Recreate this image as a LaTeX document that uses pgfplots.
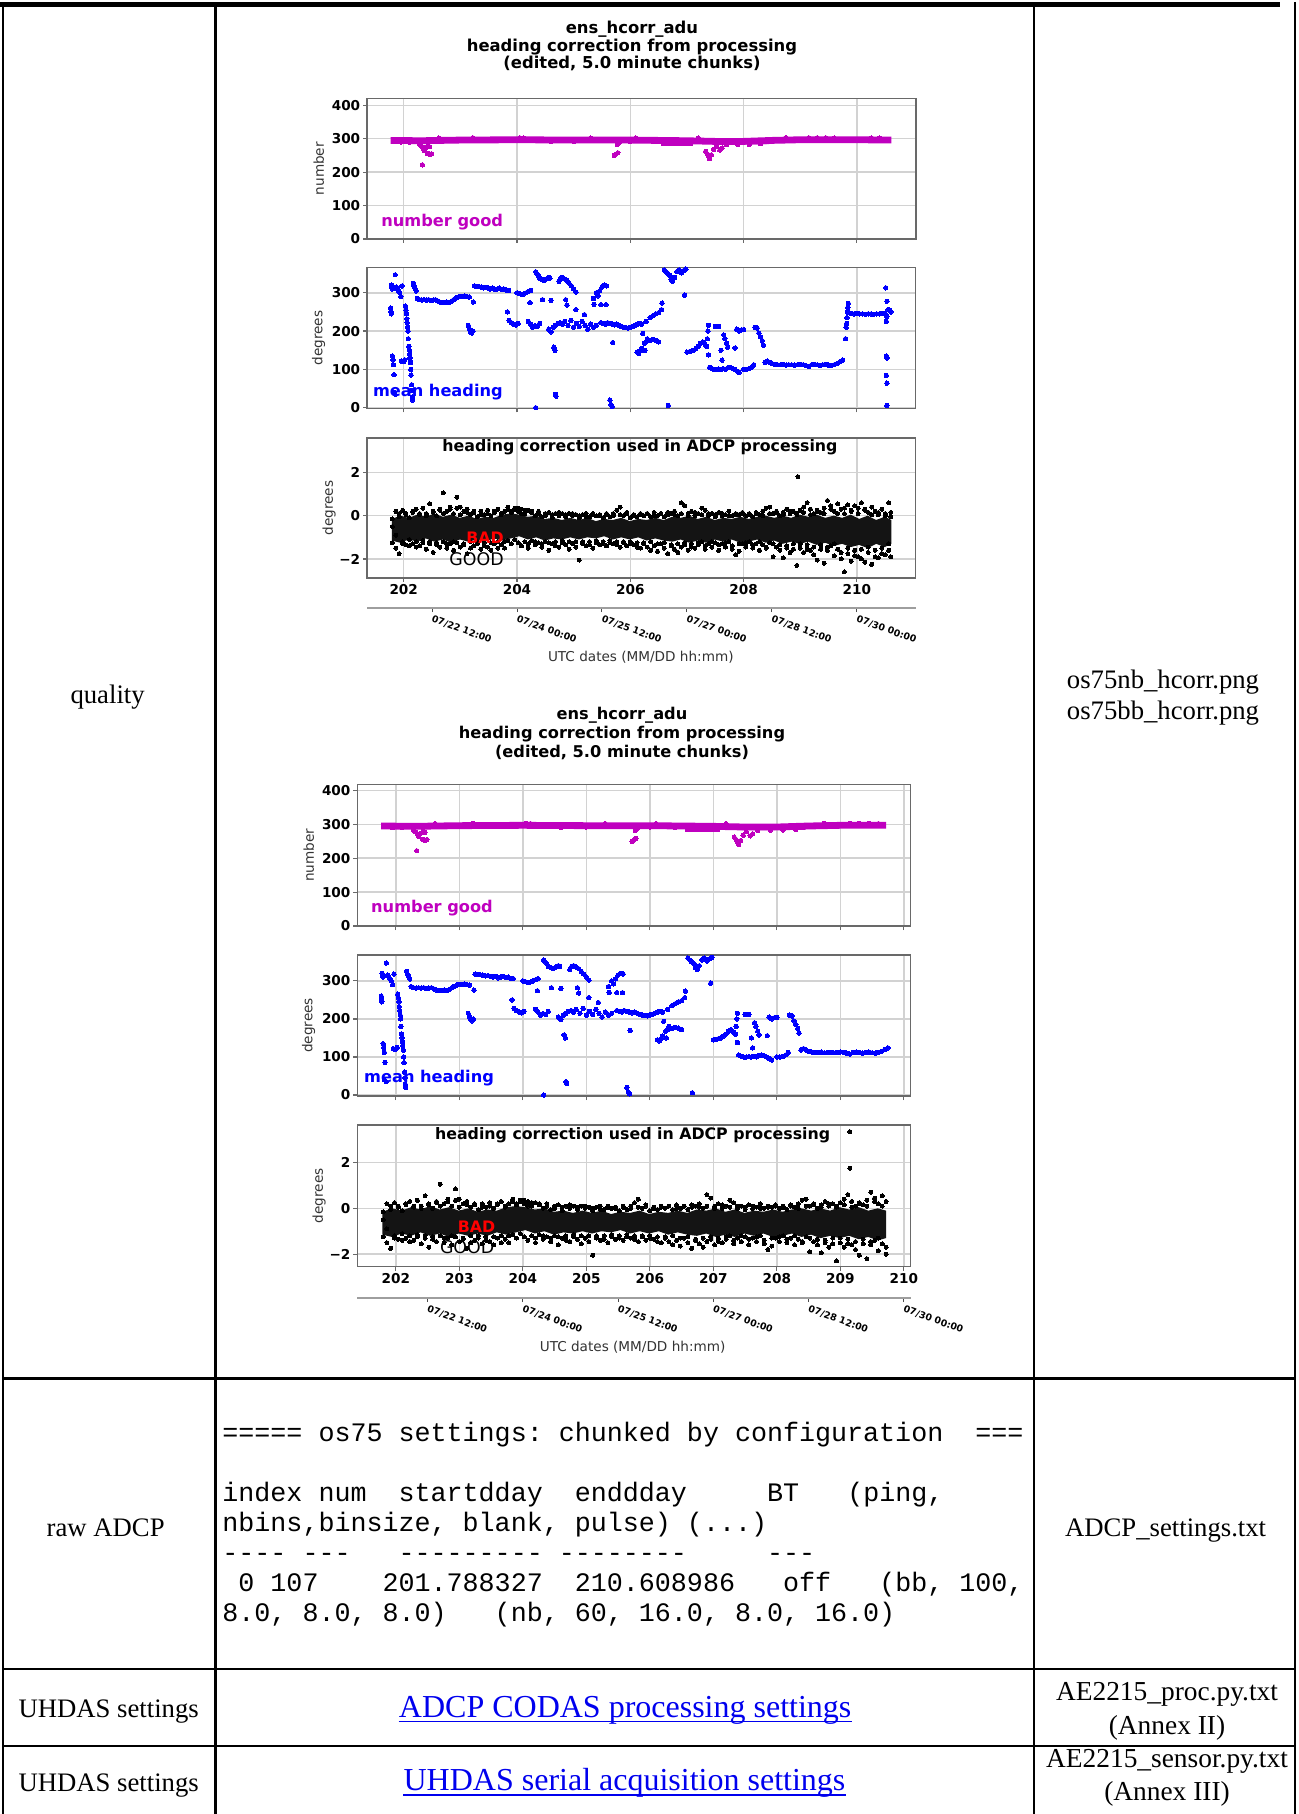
\documentclass[border=0pt]{standalone}
\usepackage{fontspec}
\setmainfont{Liberation Serif}
\setmonofont{Liberation Mono}
\newfontfamily\dv{DejaVu Sans}
\usepackage{pgfplots}
\usepackage{pgfplotstable}
\pgfplotsset{compat=1.18}

\definecolor{mag}{RGB}{191,0,191}
\definecolor{hblue}{RGB}{0,0,255}
\definecolor{gridc}{RGB}{210,210,210}
\definecolor{spinec}{RGB}{105,105,105}
\definecolor{linkblue}{RGB}{0,0,238}

\newcommand{\tf}{\fontsize{13.35}{16}\selectfont}
\newcommand{\tfb}{\fontsize{13.7}{16.5}\selectfont}
\newcommand{\lf}{\fontsize{16}{19}\selectfont}
\newcommand{\tk}{\dv\bfseries\fontsize{6.8}{8.2}\selectfont}

\pgfplotstableread{
x y
201.770 260
201.775 250
201.780 245
201.785 320
201.790 314
201.800 310
201.850 347
201.870 315
201.890 310
201.910 305
201.930 300
201.950 290
201.970 318
201.800 135
201.810 125
201.820 112
201.830 86
201.820 40
201.850 35
201.960 122
201.980 120
202.000 121
202.020 125
202.030 265
202.040 255
202.050 245
202.055 232
202.060 222
202.070 210
202.075 200
202.080 180
202.090 160
202.100 150
202.105 140
202.110 130
202.120 118
202.125 100
202.130 85
202.140 60
202.145 45
202.150 28
202.155 20
202.170 325
202.180 318
202.200 312
202.220 305
202.240 285
202.280 282
202.320 281
202.360 282
202.400 281
202.440 282
202.480 280
202.520 281
202.560 282
202.600 279
202.640 276
202.680 275
202.720 274
202.760 276
202.800 275
202.840 277
202.880 282
202.920 286
202.960 289
203.000 291
203.040 290
203.080 292
203.120 290
203.160 289
203.140 215
203.160 205
203.180 198
203.200 195
203.220 200
203.230 276
203.250 318
203.290 317
203.330 316
203.370 315
203.410 313
203.450 314
203.490 312
203.530 310
203.570 312
203.610 308
203.650 310
203.690 312
203.730 309
203.770 310
203.810 307
203.850 306
203.830 250
203.860 228
203.900 222
203.940 218
203.980 216
204.020 220
204.000 300
204.040 298
204.080 296
204.120 297
204.160 300
204.200 303
204.240 306
204.230 274
204.200 225
204.240 218
204.280 210
204.320 214
204.360 212
204.400 220
204.330 355
204.350 350
204.380 344
204.400 338
204.440 335
204.480 332
204.520 336
204.560 340
204.580 338
204.330 0
204.450 282
204.600 280
204.560 205
204.600 198
204.640 210
204.680 215
204.720 220
204.760 222
204.800 218
204.840 225
204.650 158
204.670 150
204.680 35
204.690 30
204.740 330
204.770 338
204.800 340
204.840 336
204.880 332
204.920 325
204.960 318
205.000 310
205.040 302
204.860 282
204.880 268
204.900 215
204.950 228
205.000 210
205.050 220
205.100 212
205.150 225
205.200 215
205.250 205
205.300 218
205.350 210
205.400 215
205.040 256
205.190 243
205.350 285
205.360 270
205.400 300
205.430 292
205.460 305
205.500 315
205.540 320
205.580 318
205.480 269
205.570 269
205.480 222
205.520 220
205.560 218
205.600 222
205.640 220
205.680 218
205.720 216
205.760 218
205.800 215
205.840 212
205.880 210
205.920 209
205.960 208
206.000 210
206.040 212
206.080 215
206.120 218
206.160 220
206.200 218
205.690 170
205.640 20
205.660 8
205.680 3
206.120 145
206.150 142
206.180 148
206.200 155
206.220 194
206.250 168
206.280 172
206.300 180
206.350 175
206.400 178
206.450 176
206.500 172
206.260 150
206.280 225
206.350 235
206.400 240
206.450 245
206.500 248
206.550 256
206.560 273
206.600 360
206.630 355
206.660 350
206.700 345
206.720 335
206.750 330
206.780 340
206.820 355
206.860 360
206.900 352
206.940 358
206.980 362
206.960 294
206.670 6
207.000 145
207.040 146
207.080 148
207.120 150
207.160 155
207.200 160
207.240 168
207.280 172
207.320 165
207.350 160
207.360 180
207.370 200
207.380 215
207.380 138
207.400 105
207.440 102
207.480 100
207.520 100
207.560 101
207.600 100
207.640 102
207.680 100
207.720 104
207.760 105
207.800 103
207.840 100
207.880 96
207.920 92
207.500 212
207.560 212
207.650 190
207.670 180
207.700 168
207.720 158
207.600 150
207.620 124
207.850 156
207.880 205
207.920 200
207.960 203
208.000 204
208.000 100
208.050 100
208.100 102
208.150 106
208.180 112
208.200 210
208.240 208
208.270 195
208.300 185
208.330 175
208.350 163
208.380 118
208.420 122
208.460 118
208.500 115
208.550 113
208.600 112
208.650 112
208.700 113
208.750 111
208.800 112
208.850 112
208.900 111
208.950 112
209.000 113
209.050 112
209.100 110
209.150 108
209.200 112
209.250 113
209.300 112
209.350 110
209.400 112
209.450 113
209.500 111
209.550 110
209.600 112
209.650 115
209.700 120
209.750 124
209.800 180
209.810 210
209.820 220
209.825 235
209.830 250
209.840 262
209.850 272
209.860 248
209.900 246
209.950 245
210.000 246
210.050 245
210.100 245
210.150 244
210.200 245
210.250 245
210.300 244
210.350 245
210.400 245
210.450 246
210.500 246
210.510 313
210.530 278
210.550 256
210.520 225
210.530 238
210.520 135
210.530 130
210.520 84
210.530 64
210.530 6
210.580 255
210.600 250
}\hdg

\pgfplotstableread{
x y
202.28 283
202.31 278
202.34 272
202.37 270
202.40 274
202.43 280
202.46 276
202.33 222
202.42 256
202.46 252
202.49 255
202.36 265
205.72 250
205.75 254
205.78 258
205.80 288
205.77 282
207.33 262
207.36 255
207.38 248
207.40 240
207.43 252
207.47 268
207.52 278
207.58 266
207.62 272
207.70 282
207.90 283
208.10 283
208.30 285
202.62 302
203.22 303
204.05 303
204.12 302
205.30 302
206.10 302
207.20 302
208.75 303
209.15 303
209.30 303
209.45 303
209.60 302
210.25 302
210.40 302
201.95 290
202.10 290
204.60 291
205.00 292
206.00 292
206.40 291
}\ngd

\pgfplotstableread{
x y
201.79 -0.15
201.94 0.0
202.09 -0.1
202.24 0.05
202.39 -0.05
202.54 0.1
202.69 -0.05
202.84 0.05
202.99 -0.1
203.14 0.0
203.29 -0.15
203.44 -0.05
203.59 -0.1
203.74 0.05
203.89 0.1
204.04 0.05
204.19 -0.05
204.34 0.0
204.49 -0.15
204.64 -0.1
204.79 -0.2
204.94 -0.1
205.09 -0.2
205.24 -0.1
205.39 -0.25
205.54 -0.15
205.69 -0.2
205.84 -0.1
205.99 -0.25
206.14 -0.15
206.29 -0.2
206.44 -0.1
206.59 -0.2
206.74 -0.05
206.89 -0.1
207.04 0.0
207.19 -0.15
207.34 -0.05
207.49 -0.2
207.64 -0.1
207.79 -0.15
207.94 -0.05
208.09 -0.15
208.24 -0.05
208.39 0.0
208.54 -0.1
208.69 0.0
208.84 -0.1
208.99 0.05
209.14 -0.05
209.29 0.05
209.44 -0.1
209.59 0.0
209.74 -0.1
209.89 0.05
210.04 -0.15
210.19 0.0
210.34 -0.2
210.49 -0.05
210.61 -0.2
210.61 -1.3
210.49 -1.45
210.34 -1.3
210.19 -1.5
210.04 -1.35
209.89 -1.45
209.74 -1.3
209.59 -1.4
209.44 -1.25
209.29 -1.35
209.14 -1.2
208.99 -1.3
208.84 -1.2
208.69 -1.3
208.54 -1.15
208.39 -1.25
208.24 -1.1
208.09 -1.2
207.94 -1.25
207.79 -1.1
207.64 -1.2
207.49 -1.1
207.34 -1.25
207.19 -1.15
207.04 -1.25
206.89 -1.1
206.74 -1.2
206.59 -1.15
206.44 -1.05
206.29 -1.15
206.14 -1.0
205.99 -1.1
205.84 -1.0
205.69 -1.1
205.54 -0.95
205.39 -1.05
205.24 -1.0
205.09 -1.1
204.94 -1.0
204.79 -1.1
204.64 -1.05
204.49 -1.15
204.34 -1.0
204.19 -1.1
204.04 -0.95
203.89 -1.05
203.74 -1.15
203.59 -1.05
203.44 -1.2
203.29 -1.1
203.14 -1.2
202.99 -1.1
202.84 -1.25
202.69 -1.1
202.54 -1.2
202.39 -1.05
202.24 -1.2
202.09 -1.1
201.94 -1.25
201.79 -1.15
}\core

\pgfplotstableread{
x y
201.79 -0.15
201.94 0.0
202.09 -0.1
202.24 0.05
202.39 -0.05
202.54 0.1
202.69 -0.05
202.84 0.05
202.99 -0.1
203.14 0.0
203.29 -0.15
203.44 -0.05
203.59 -0.1
203.74 0.05
203.89 0.1
204.04 0.05
204.19 -0.05
204.34 0.0
204.49 -0.15
204.64 -0.1
204.79 -0.2
204.94 -0.1
205.09 -0.2
205.24 -0.1
205.39 -0.25
205.54 -0.15
205.69 -0.2
205.84 -0.1
205.99 -0.25
206.14 -0.15
206.29 -0.2
206.44 -0.1
206.59 -0.2
206.74 -0.05
206.89 -0.1
207.04 0.0
207.19 -0.15
207.34 -0.05
207.49 -0.2
207.64 -0.1
207.79 -0.15
207.94 -0.05
208.09 -0.15
208.24 -0.05
208.39 0.0
208.54 -0.1
208.69 0.0
208.84 -0.1
208.99 0.05
209.14 -0.05
209.29 0.05
209.44 -0.1
209.59 0.0
209.72 -0.1
209.72 -1.3
209.59 -1.4
209.44 -1.25
209.29 -1.35
209.14 -1.2
208.99 -1.3
208.84 -1.2
208.69 -1.3
208.54 -1.15
208.39 -1.25
208.24 -1.1
208.09 -1.2
207.94 -1.25
207.79 -1.1
207.64 -1.2
207.49 -1.1
207.34 -1.25
207.19 -1.15
207.04 -1.25
206.89 -1.1
206.74 -1.2
206.59 -1.15
206.44 -1.05
206.29 -1.15
206.14 -1.0
205.99 -1.1
205.84 -1.0
205.69 -1.1
205.54 -0.95
205.39 -1.05
205.24 -1.0
205.09 -1.1
204.94 -1.0
204.79 -1.1
204.64 -1.05
204.49 -1.15
204.34 -1.0
204.19 -1.1
204.04 -0.95
203.89 -1.05
203.74 -1.15
203.59 -1.05
203.44 -1.2
203.29 -1.1
203.14 -1.2
202.99 -1.1
202.84 -1.25
202.69 -1.1
202.54 -1.2
202.39 -1.05
202.24 -1.2
202.09 -1.1
201.94 -1.25
201.79 -1.15
}\coreB

\pgfplotstableread{
x a b c
201.80 -0.15 -1.25 -0.5
201.86 0.2 -1.5 -0.9
201.92 -0.05 -1.75 0.1
201.98 0.25 -1.2 -1.3
202.04 0.1 -1.35 0.05
202.10 -0.1 -1.1 -1.4
202.16 0.15 -1.3 0.2
202.22 0.3 -1.2 -1.45
202.28 0.05 -1.4 0.1
202.34 0.35 -1.15 -1.25
202.40 0.1 -1.55 0.0
202.46 0.55 -1.3 -1.2
202.52 0.2 -1.7 0.15
202.58 0.0 -1.25 -1.35
202.64 0.3 -1.45 0.25
202.70 1.05 -1.2 0.1
202.76 0.2 -1.5 -1.3
202.82 0.4 -1.3 0.3
202.88 0.1 -1.6 -1.2
202.94 0.85 -1.25 0.35
203.00 0.4 -1.45 0.05
203.06 0.2 -1.3 -1.35
203.12 0.3 -1.75 0.15
203.18 0.05 -1.2 -1.5
203.24 0.15 -1.4 0.2
203.30 -0.05 -1.3 -1.2
203.36 0.2 -1.55 0.05
203.42 0.05 -1.25 -1.4
203.48 0.25 -1.45 0.1
203.54 0.0 -1.6 -1.25
203.60 0.15 -1.3 0.2
203.66 0.3 -1.2 -1.5
203.72 0.1 -1.35 0.05
203.78 0.2 -1.5 -1.2
203.84 0.4 -1.15 0.3
203.90 0.15 -1.3 0.2
203.96 0.35 -1.1 0.3
204.02 0.2 -1.25 0.35
204.08 0.3 -1.4 0.1
204.14 0.1 -1.2 0.25
204.20 0.25 -1.5 -1.3
204.26 0.15 -1.15 0.2
204.32 0.0 -1.35 -1.2
204.38 0.2 -1.25 0.1
204.44 -0.05 -1.45 -1.3
204.50 0.1 -1.2 0.0
204.56 0.15 -1.6 -1.25
204.62 -0.1 -1.3 0.05
204.68 0.1 -1.2 -1.4
204.74 0.0 -1.45 0.15
204.80 0.1 -1.25 -1.15
204.86 -0.05 -1.35 0.05
204.92 0.1 -1.55 -1.2
204.98 0.0 -1.3 0.1
205.04 0.05 -1.2 -1.45
205.10 -0.1 -2.05 0.0
205.16 0.05 -1.3 -1.2
205.22 0.1 -1.4 -0.05
205.28 -0.05 -1.2 -1.35
205.34 0.1 -1.5 0.05
205.40 0.0 -1.25 -1.15
205.46 0.05 -1.35 0.0
205.52 -0.1 -1.2 -1.3
205.58 0.05 -1.4 0.1
205.64 -0.05 -1.15 -1.25
205.70 0.1 -1.3 0.0
205.76 0.25 -1.2 -1.35
205.82 0.4 -1.45 0.05
205.88 0.0 -1.25 -1.2
205.94 0.1 -1.4 0.15
206.00 -0.1 -1.2 -1.3
206.06 0.05 -1.35 0.0
206.12 -0.05 -1.25 -1.45
206.18 0.1 -1.5 0.05
206.24 0.0 -1.3 -1.25
206.30 0.1 -1.45 0.1
206.36 -0.05 -1.2 -1.6
206.42 0.15 -1.4 0.0
206.48 0.0 -1.65 -1.3
206.54 0.1 -1.3 0.1
206.60 -0.05 -1.5 -1.25
206.66 0.05 -1.75 0.15
206.72 0.1 -1.35 -1.4
206.78 0.2 -1.55 0.05
206.84 0.0 -1.3 -1.7
206.90 0.6 -1.45 0.1
206.96 0.45 -1.25 -1.35
207.02 0.1 -1.6 0.0
207.08 0.2 -1.3 -1.45
207.14 0.0 -1.5 0.15
207.20 0.1 -1.35 -1.25
207.26 0.35 -1.2 0.05
207.32 0.25 -1.55 -1.4
207.38 0.0 -1.3 0.1
207.44 0.1 -1.45 -1.2
207.50 -0.05 -1.25 0.05
207.56 0.15 -1.6 -1.35
207.62 0.0 -1.3 0.1
207.68 0.05 -1.45 -1.25
207.74 0.2 -1.2 0.0
207.80 0.0 -1.55 -1.4
207.86 0.1 -1.8 0.05
207.92 0.05 -1.65 -1.3
207.98 0.15 -1.3 0.1
208.04 0.0 -1.45 -1.25
208.10 0.1 -1.2 0.05
208.16 -0.05 -1.5 -1.35
208.22 0.15 -1.3 0.1
208.28 0.05 -1.6 -1.2
208.34 0.2 -1.35 0.0
208.40 0.35 -1.5 -1.45
208.46 0.4 -1.25 0.1
208.52 0.1 -1.9 -1.3
208.58 0.2 -1.45 0.15
208.64 0.0 -1.6 -1.35
208.70 0.15 -1.95 0.05
208.76 0.3 -1.4 -1.5
208.82 0.1 -1.7 0.2
208.88 0.2 -1.3 -1.55
208.94 0.05 -2.3 0.1
209.00 0.25 -1.5 -1.3
209.06 0.4 -1.7 0.15
209.12 0.6 -1.35 -1.55
209.18 0.3 -1.6 0.05
209.24 0.1 -1.45 -1.8
209.30 0.25 -2.05 0.2
209.36 0.15 -1.55 -1.35
209.42 0.35 -2.2 0.1
209.48 0.7 -1.6 -1.45
209.54 0.45 -1.4 0.3
209.60 0.2 -1.85 -1.3
209.66 0.55 -1.55 0.1
209.72 0.3 -2.0 -1.7
209.78 0.1 -2.6 0.35
209.84 0.5 -1.75 -1.5
209.90 0.25 -2.1 0.2
209.96 0.45 -1.6 -1.85
210.02 0.35 -1.9 0.1
210.08 0.6 -1.55 -2.0
210.14 0.3 -2.15 0.25
210.20 0.15 -1.7 -1.45
210.26 0.4 -2.25 0.05
210.32 0.2 -1.6 -1.9
210.38 0.05 -1.95 0.15
210.44 0.3 -1.5 -1.75
210.50 0.0 -1.8 0.1
210.56 0.6 -1.6 -1.3
210.60 0.15 -1.9 -0.05
}\hcr

\pgfplotsset{
 panel/.style={scale only axis, anchor=north west,
   axis line style={spinec, line width=0.7pt},
   grid=major, major grid style={gridc, line width=0.75pt},
   tick align=outside, tick pos=left, major tick length=2pt,
   tick style={spinec, line width=0.6pt},
   /pgf/number format/assume math mode=true,
   ticklabel style={font=\tk, inner sep=1.2pt},
   every axis y label/.style={rotate=90, anchor=center, font=\dv\fontsize{6.8}{8.2}\selectfont, text=black!80},
 },
 dateax/.style={scale only axis, anchor=south west, height=10pt,
   ymin=0, ymax=1, axis y line=none, axis x line*=bottom,
   x axis line style={black!38, line width=1pt},
   tick align=outside, major tick length=2pt,
   tick style={black!70, line width=0.5pt}, ytick=\empty,
   xtick={202.5,204,205.5,207,208.5,210},
   xticklabels={{07/22 12:00},{07/24 00:00},{07/25 12:00},{07/27 00:00},{07/28 12:00},{07/30 00:00}},
   xticklabel style={font=\dv\bfseries\fontsize{4.7}{5.5}\selectfont, rotate=-20, anchor=north west, inner sep=1pt},
 },
 hmark/.style={only marks, mark=*, mark size=1.1pt, hblue, mark options={line width=0pt}},
 nmark/.style={only marks, mark=*, mark size=1.1pt, mag, mark options={line width=0pt}},
 cmark/.style={only marks, mark=*, mark size=1.0pt, black, mark options={line width=0pt}},
}

\begin{document}
\begin{tikzpicture}
\useasboundingbox (0pt,0pt) rectangle (649pt,-907pt);
\fill[white] (0pt,0pt) rectangle (649pt,-907pt);

% ---------- table rules ----------
\draw[line width=2.8pt] (0pt,-2.25pt) -- (640pt,-2.25pt);
\draw[line width=1pt] (1.6pt,-3pt) -- (1.6pt,-907pt);
\draw[line width=1.25pt] (107.65pt,-3pt) -- (107.65pt,-907pt);
\draw[line width=1.25pt] (517pt,-3pt) -- (517pt,-907pt);
\draw[line width=1pt] (647.3pt,-1pt) -- (647.3pt,-907pt);
\draw[line width=1.5pt] (1.6pt,-689pt) -- (647.3pt,-689pt);
\draw[line width=1.25pt] (1.6pt,-834.5pt) -- (647.3pt,-834.5pt);
\draw[line width=1.2pt] (1.6pt,-873pt) -- (647.3pt,-873pt);

% ---------- table text ----------
\node[anchor=base, inner sep=0] at (53.8pt,-351.5pt) {\tf quality};
\node[anchor=base, inner sep=0] at (581.5pt,-344pt) {\tf os75nb\_hcorr.png};
\node[anchor=base, inner sep=0] at (581.5pt,-359.7pt) {\tf os75bb\_hcorr.png};

\node[anchor=base, inner sep=0] at (52.85pt,-768pt) {\tf raw ADCP};
\node[anchor=base, inner sep=0] at (582.8pt,-768pt) {\tf ADCP\_settings.txt};

\node[anchor=base west, inner sep=0] at (111pt,-720.5pt) {\ttfamily\tf =====~os75~settings:~chunked~by~configuration~~===};
\node[anchor=base west, inner sep=0] at (111pt,-750.5pt) {\ttfamily\tf index~num~~startdday~~enddday~~~~~BT~~~(ping,};
\node[anchor=base west, inner sep=0] at (111pt,-765.5pt) {\ttfamily\tf nbins,binsize,~blank,~pulse)~(...)};
\node[anchor=base west, inner sep=0] at (111pt,-780.5pt) {\ttfamily\tf -{}-{}-{}-~-{}-{}-~~~-{}-{}-{}-{}-{}-{}-{}-{}-~-{}-{}-{}-{}-{}-{}-{}-~~~~~-{}-{}-};
\node[anchor=base west, inner sep=0] at (111pt,-795.5pt) {\ttfamily\tf ~0~107~~~~201.788327~~210.608986~~~off~~~(bb,~100,};
\node[anchor=base west, inner sep=0] at (111pt,-810.5pt) {\ttfamily\tf 8.0,~8.0,~8.0)~~~(nb,~60,~16.0,~8.0,~16.0)};

\node[anchor=base, inner sep=0] at (54.35pt,-858.5pt) {\tf UHDAS settings};
\node[anchor=base, inner sep=0, text=linkblue] (l1) at (312.6pt,-858.6pt) {\lf ADCP CODAS processing settings};
\draw[linkblue, line width=0.65pt] ([yshift=-2.3pt]l1.base west) -- ([yshift=-2.3pt]l1.base east);
\node[anchor=base, inner sep=0] at (583.5pt,-850.3pt) {\tfb AE2215\_proc.py.txt};
\node[anchor=base, inner sep=0] at (583.5pt,-867pt) {\tfb (Annex II)};

\node[anchor=base, inner sep=0] at (54.35pt,-895.8pt) {\tf UHDAS settings};
\node[anchor=base, inner sep=0, text=linkblue] (l2) at (312.25pt,-895.2pt) {\lf UHDAS serial acquisition settings};
\draw[linkblue, line width=0.65pt] ([yshift=-2.3pt]l2.base west) -- ([yshift=-2.3pt]l2.base east);
\node[anchor=base, inner sep=0] at (583.5pt,-883.7pt) {\tfb AE2215\_sensor.py.txt};
\node[anchor=base, inner sep=0] at (583.5pt,-900.3pt) {\tfb (Annex III)};

% ================= CHART 1 (os75nb) =================
\begin{axis}[panel, at={(183.5pt,-49.15pt)}, width=274.4pt, height=70.35pt,
  xmin=201.352, xmax=211.04, ymin=0, ymax=421,
  xtick={202,204,...,210}, xticklabels={}, ytick={0,100,200,300,400},
  ylabel={number}, ylabel style={at={(axis description cs:-0.088,0.5)}}]
\addplot[mag, line width=3.4pt] coordinates {(201.77,295) (202.3,294) (203,296) (204,297) (205,296) (206,296) (206.5,295) (207,294) (207.5,292) (208,292) (208.5,295) (209,297) (210,297) (210.61,296)};
\addplot[mag, line width=2.2pt] coordinates {(206.55,284) (207.1,284)};
\addplot[mag, line width=1.8pt] coordinates {(207.45,288) (208.45,289)};
\addplot[nmark] table[x=x,y=y] {\ngd};
\end{axis}

\begin{axis}[panel, at={(183.5pt,-133.85pt)}, width=274.4pt, height=70.3pt,
  xmin=201.352, xmax=211.04, ymin=-1.6, ymax=365.5,
  xtick={202,204,...,210}, xticklabels={}, ytick={0,100,200,300},
  ylabel={degrees}, ylabel style={at={(axis description cs:-0.088,0.5)}}]
\addplot[hmark] table[x=x,y=y] {\hdg};
\end{axis}

\begin{axis}[panel, at={(183.5pt,-219pt)}, width=274.4pt, height=70pt,
  xmin=201.352, xmax=211.04, ymin=-2.88, ymax=3.59,
  xtick={202,204,...,210}, ytick={-2,0,2}, yticklabels={−2,0,2},
  ylabel={degrees}, ylabel style={at={(axis description cs:-0.0692,0.5)}}]
\addplot[fill=black!92, draw=none] table[x=x,y=y] {\core};
\addplot[cmark] table[x=x,y=a] {\hcr};
\addplot[cmark] table[x=x,y=b] {\hcr};
\addplot[cmark] table[x=x,y=c] {\hcr};
\addplot[cmark] coordinates {(208.96,1.8)};
\end{axis}

\begin{axis}[dateax, at={(183.5pt,-304pt)}, width=274.4pt, xmin=201.352, xmax=211.04]
\addplot[draw=none] coordinates {(205,0.5)};
\end{axis}

% chart 1 texts
\node[anchor=base, inner sep=0] at (316pt,-16.75pt) {\dv\bfseries\fontsize{8.2}{9.5}\selectfont ens\_hcorr\_adu};
\node[anchor=base, inner sep=0] at (316pt,-26pt) {\dv\bfseries\fontsize{8.2}{9.5}\selectfont heading correction from processing};
\node[anchor=base, inner sep=0] at (316pt,-34.5pt) {\dv\bfseries\fontsize{8.2}{9.5}\selectfont (edited, 5.0 minute chunks)};
\node[anchor=base west, inner sep=0, text=mag] at (190.5pt,-113pt) {\dv\bfseries\fontsize{8.1}{9.5}\selectfont number good};
\node[anchor=base west, inner sep=0, text=hblue] at (186.3pt,-198pt) {\dv\bfseries\fontsize{8.1}{9.5}\selectfont mean heading};
\node[anchor=base, inner sep=0] at (320pt,-225.75pt) {\dv\bfseries\fontsize{7.9}{9.5}\selectfont heading correction used in ADCP processing};
\node[anchor=base west, inner sep=0, text=red] at (233pt,-271.75pt) {\dv\bfseries\fontsize{7.9}{9.5}\selectfont BAD};
\node[anchor=base west, inner sep=0] at (224.5pt,-282.5pt) {\dv\fontsize{8.7}{10}\selectfont GOOD};
\node[anchor=base, inner sep=0, text=black!80] at (320.4pt,-330.75pt) {\dv\fontsize{6.8}{8.2}\selectfont UTC dates (MM/DD hh:mm)};

% ================= CHART 2 (os75bb) =================
\begin{axis}[panel, at={(178.6pt,-392.15pt)}, width=276.75pt, height=70.85pt,
  xmin=201.392, xmax=210.109, ymin=0, ymax=418,
  xtick={202,...,210}, xticklabels={}, ytick={0,100,200,300,400},
  ylabel={number}, ylabel style={at={(axis description cs:-0.0876,0.5)}}]
\addplot[mag, line width=3.4pt] coordinates {(201.77,295) (202.3,294) (203,296) (204,297) (205,296) (206,296) (206.5,295) (207,294) (207.5,292) (208,292) (208.5,295) (209,297) (209.72,297)};
\addplot[mag, line width=2.2pt] coordinates {(206.55,284) (207.1,284)};
\addplot[mag, line width=1.8pt] coordinates {(207.45,288) (208.45,289)};
\addplot[nmark, restrict x to domain=201:209.72] table[x=x,y=y] {\ngd};
\end{axis}

\begin{axis}[panel, at={(178.6pt,-477.5pt)}, width=276.75pt, height=70.5pt,
  xmin=201.392, xmax=210.109, ymin=-2.6, ymax=368,
  xtick={202,...,210}, xticklabels={}, ytick={0,100,200,300},
  ylabel={degrees}, ylabel style={at={(axis description cs:-0.0876,0.5)}}]
\addplot[hmark, restrict x to domain=201:209.76] table[x=x,y=y] {\hdg};
\end{axis}

\begin{axis}[panel, at={(178.6pt,-562.5pt)}, width=276.75pt, height=70.85pt,
  xmin=201.392, xmax=210.109, ymin=-2.55, ymax=3.64,
  xtick={202,...,210}, ytick={-2,0,2}, yticklabels={−2,0,2},
  ylabel={degrees}, ylabel style={at={(axis description cs:-0.069,0.5)}}]
\addplot[fill=black!92, draw=none] table[x=x,y=y] {\coreB};
\addplot[cmark, restrict x to domain=201:209.73] table[x=x,y=a] {\hcr};
\addplot[cmark, restrict x to domain=201:209.73] table[x=x,y=b] {\hcr};
\addplot[cmark, restrict x to domain=201:209.73] table[x=x,y=c] {\hcr};
\addplot[cmark] coordinates {(209.15,1.75) (209.15,3.35)};
\end{axis}

\begin{axis}[dateax, at={(178.6pt,-649pt)}, width=276.75pt, xmin=201.392, xmax=210.109]
\addplot[draw=none] coordinates {(205,0.5)};
\end{axis}

% chart 2 texts
\node[anchor=base, inner sep=0] at (311pt,-359.75pt) {\dv\bfseries\fontsize{8.1}{9.5}\selectfont ens\_hcorr\_adu};
\node[anchor=base, inner sep=0] at (311pt,-369pt) {\dv\bfseries\fontsize{8.1}{9.5}\selectfont heading correction from processing};
\node[anchor=base, inner sep=0] at (311pt,-378.5pt) {\dv\bfseries\fontsize{8.1}{9.5}\selectfont (edited, 5.0 minute chunks)};
\node[anchor=base west, inner sep=0, text=mag] at (185.4pt,-456pt) {\dv\bfseries\fontsize{8.1}{9.5}\selectfont number good};
\node[anchor=base west, inner sep=0, text=hblue] at (181.9pt,-541.35pt) {\dv\bfseries\fontsize{8.1}{9.5}\selectfont mean heading};
\node[anchor=base, inner sep=0] at (316.3pt,-569.75pt) {\dv\bfseries\fontsize{7.9}{9.5}\selectfont heading correction used in ADCP processing};
\node[anchor=base west, inner sep=0, text=red] at (228.7pt,-616.25pt) {\dv\bfseries\fontsize{7.9}{9.5}\selectfont BAD};
\node[anchor=base west, inner sep=0] at (219.8pt,-626.85pt) {\dv\fontsize{8.7}{10}\selectfont GOOD};
\node[anchor=base, inner sep=0, text=black!80] at (316.3pt,-675.75pt) {\dv\fontsize{6.8}{8.2}\selectfont UTC dates (MM/DD hh:mm)};
\end{tikzpicture}
\end{document}
